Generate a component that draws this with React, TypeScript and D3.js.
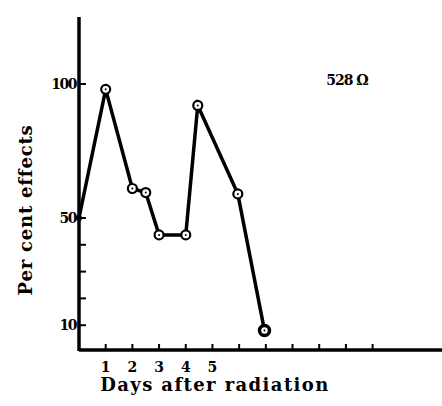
import React from 'react';
import * as d3 from 'd3';

// values
const days = [0, 1, 2, 2.5, 3, 4, 4.45, 5.95, 6.95];
const effects = [50, 98, 61, 59.5, 43.7, 43.7, 92, 59, 8];
const yTickLabels = [10, 50, 100];
const yMinorTicks = [20, 30, 40];
const xTickLabels = [1, 2, 3, 4, 5];
const xTicks = [1, 2, 3, 4, 5, 6, 7, 8, 9, 10, 11];
const note = '528 Ω';

const W = 442;
const H = 406;
const font = '"DejaVu Serif", "Liberation Serif", serif';

export default function App() {
  const x = d3.scaleLinear().domain([0, 13.6]).range([79, 442]);
  const y = d3.scaleLinear().domain([0, 125]).range([352, 17]);

  const line = d3.line<number>()
    .x((d, i) => x(days[i]))
    .y(d => y(d));

  const axisY = 350;

  return (
    <svg width={W} height={H} style={{ position: 'absolute', left: 0, top: 0, background: '#fff' }}>
      {/* y axis */}
      <line x1={x(0)} x2={x(0)} y1={y(125)} y2={axisY + 1} stroke="#000" strokeWidth={3.5} />
      {/* x axis */}
      <line x1={x(0)} x2={W} y1={axisY} y2={axisY} stroke="#000" strokeWidth={3.5} />

      {yTickLabels.concat(yMinorTicks).map(v => (
        <line key={'yt' + v} x1={x(0)} x2={x(0) + 7} y1={y(v)} y2={y(v)} stroke="#000" strokeWidth={2} />
      ))}
      {yTickLabels.map(v => (
        <text key={'yl' + v} x={x(0) - 3} y={y(v) + 5} textAnchor="end"
          fontFamily={font} fontWeight="bold" fontSize={14} letterSpacing={-1.5}>{v}</text>
      ))}

      {xTicks.map(d => (
        <line key={'xt' + d} x1={x(d)} x2={x(d)} y1={axisY} y2={axisY - 6} stroke="#000" strokeWidth={2} />
      ))}
      {xTickLabels.map(d => (
        <text key={'xl' + d} x={x(d)} y={372} textAnchor="middle"
          fontFamily={font} fontWeight="bold" fontSize={14}>{d}</text>
      ))}

      <path d={line(effects) || ''} fill="none" stroke="#000" strokeWidth={3.5} strokeLinejoin="miter" />

      {effects.map((v, i) => {
        if (i === 0) return <circle key={i} cx={x(days[i])} cy={y(v)} r={3} fill="#000" />;
        const last = i === effects.length - 1;
        return (
          <g key={i}>
            <circle cx={x(days[i])} cy={y(v)} r={last ? 5 : 4.5} fill="#fff" stroke="#000" strokeWidth={last ? 3.5 : 2.2} />
            <circle cx={x(days[i])} cy={y(v)} r={1} fill="#000" />
          </g>
        );
      })}

      <text x={347} y={85} textAnchor="middle" fontFamily={font} fontWeight="bold" fontSize={14} letterSpacing={-1}>{note}</text>

      <text transform={`translate(32,${210}) rotate(-90)`} textAnchor="middle"
        fontFamily={font} fontWeight="bold" fontSize={18} letterSpacing={0.8}>Per cent  effects</text>
      <text x={215} y={391} textAnchor="middle" fontFamily={font} fontWeight="bold" fontSize={18} letterSpacing={1.4}>Days after radiation</text>
    </svg>
  );
}
